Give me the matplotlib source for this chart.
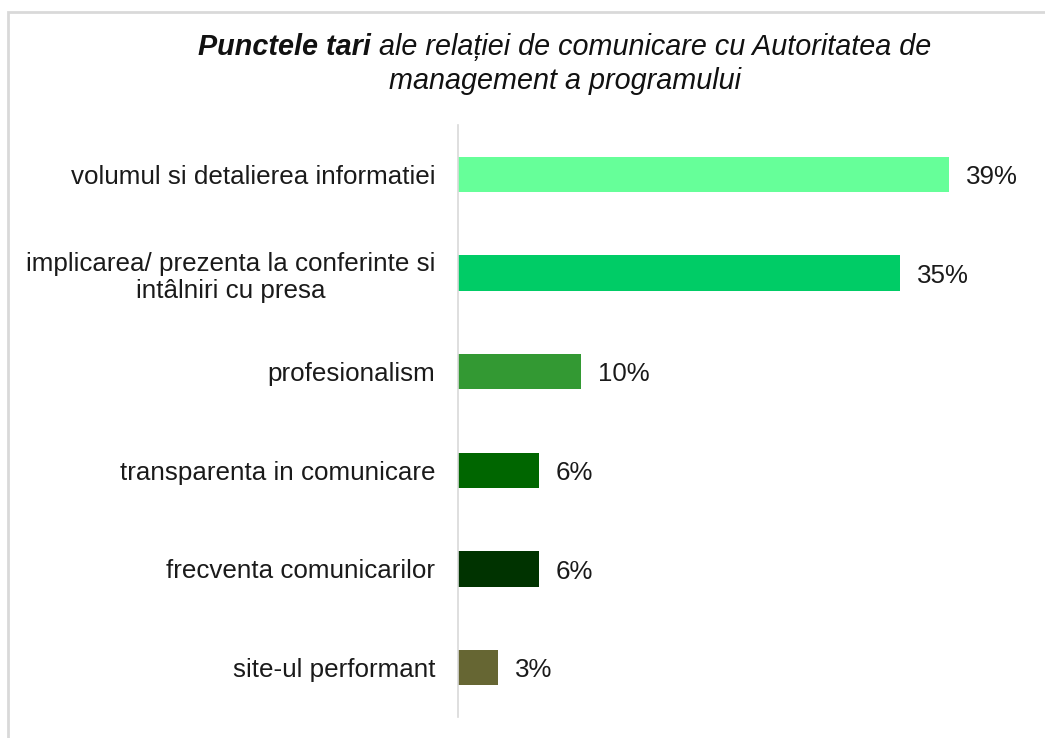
import matplotlib
matplotlib.use("Agg")
import matplotlib.pyplot as plt
from matplotlib.patches import Rectangle

categories = [
    "volumul si detalierea informatiei",
    "implicarea/ prezenta la conferinte si\nintâlniri cu presa",
    "profesionalism",
    "transparenta in comunicare",
    "frecventa comunicarilor",
    "site-ul performant",
]
values = [39.0, 35.1, 9.8, 6.4, 6.4, 3.2]
labels = ["39%", "35%", "10%", "6%", "6%", "3%"]
colors = ["#66FF99", "#00CC66", "#339933", "#006600", "#003300", "#666633"]

W, H = 1045, 738
plt.rcParams['font.family'] = ['Liberation Sans', 'DejaVu Sans']
fig = plt.figure(figsize=(W / 100, H / 100), dpi=100)

# outer border
fig.patches.append(Rectangle((7.5 / W, -0.05), 1.2, 1 - 11.5 / H + 0.05,
                             transform=fig.transFigure, fill=False,
                             edgecolor="#D9D9D9", linewidth=2, zorder=0))

ax = fig.add_axes([458 / W, 1 - 717 / H, (1025 - 458) / W, (717 - 125) / H])
ypos = list(range(len(categories)))
ax.barh(ypos, values, height=0.355, color=colors, edgecolor="none")
ax.set_ylim(len(categories) - 0.5, -0.5)
ax.set_xlim(0, 45)
ax.set_yticks(ypos)
ax.set_yticklabels(categories, fontsize=18.7, color="#1a1a1a", multialignment="center",
                   linespacing=1.2)
ax.tick_params(axis="y", length=0, pad=16.5)
ax.set_xticks([])
for s in ["top", "right", "bottom"]:
    ax.spines[s].set_visible(False)
ax.spines["left"].set_color("#D9D9D9")
ax.spines["left"].set_linewidth(1.2)

for y, v, lab in zip(ypos, values, labels):
    ax.annotate(lab, (v, y), xytext=(12, -2), textcoords="offset points",
                ha="left", va="center", fontsize=18.6, color="#1a1a1a")

# title with bold-italic start
renderer = fig.canvas.get_renderer()
fs = 20.7
cx = 565 / W
y1 = 1 - 55 / H
y2 = 1 - 89 / H
ta = fig.text(0, y1, "Punctele tari", fontsize=fs, fontstyle="italic", fontweight="bold",
              ha="left", va="baseline", color="#111111")
tb = fig.text(0, y1, " ale relației de comunicare cu Autoritatea de", fontsize=fs,
              fontstyle="italic", ha="left", va="baseline", color="#111111")
wa = ta.get_window_extent(renderer).width / W
wb = tb.get_window_extent(renderer).width / W
x0 = cx - (wa + wb) / 2
ta.set_x(x0)
tb.set_x(x0 + wa)
fig.text(cx, y2, "management a programului", fontsize=fs, fontstyle="italic",
         ha="center", va="baseline", color="#111111")

fig.savefig("out.png", dpi=100)
